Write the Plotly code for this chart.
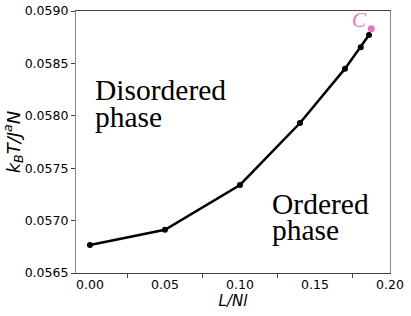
import plotly.graph_objects as go

x_vals = [0.0, 0.05, 0.10, 0.14, 0.17, 0.1805, 0.186]
y_vals = [0.056767, 0.056913, 0.057340, 0.057931, 0.058450, 0.058655, 0.058770]
c_x = [0.1875]
c_y = [0.058830]
x_ticks = [0.0, 0.05, 0.10, 0.15, 0.20]
x_tick_labels = ["0.00", "0.05", "0.10", "0.15", "0.20"]
y_ticks = [0.0565, 0.0570, 0.0575, 0.0580, 0.0585, 0.0590]
y_tick_labels = ["0.0565", "0.0570", "0.0575", "0.0580", "0.0585", "0.0590"]

fig = go.Figure()
fig.add_trace(go.Scatter(x=x_vals, y=y_vals, mode="lines+markers",
                         line=dict(color="black", width=2.5),
                         marker=dict(color="black", size=6), showlegend=False))
fig.add_trace(go.Scatter(x=c_x, y=c_y, mode="markers",
                         marker=dict(color="#e377c2", size=7), showlegend=False))

serif = "Liberation Serif, DejaVu Serif, serif"
fig.add_annotation(x=0.1865, y=0.05883, xref="x", yref="y", text="<i>C</i>",
                   showarrow=False, xanchor="right", yanchor="bottom", xshift=-1, yshift=-5,
                   font=dict(family=serif, size=21, color="#e377c2"))

def phase_text(x, y, txt, xs):
    fig.add_annotation(x=x, y=y, xref="x", yref="y", text=txt, showarrow=False,
                       xanchor="left", yanchor="middle", xshift=xs,
                       font=dict(family=serif, size=29.5, color="black"))

phase_text(0.0033, 0.058246, "Disordered", -2)
phase_text(0.0033, 0.057989, "phase", -2)
phase_text(0.1213, 0.057158, "Ordered", -2)
phase_text(0.1213, 0.056906, "phase", -2)

fig.update_layout(
    width=411, height=316, autosize=False,
    margin=dict(l=76, r=21, t=11, b=43),
    paper_bgcolor="white", plot_bgcolor="white",
    font=dict(family="DejaVu Sans", size=12.5, color="black"),
    xaxis=dict(range=[-0.0093, 0.20], tickvals=x_ticks, ticktext=x_tick_labels,
               ticks="outside", ticklen=0, showgrid=False, zeroline=False,
               showline=True, linecolor="#444", linewidth=1.2, mirror=True,
               automargin=False,
               minor=dict(tick0=0.025, dtick=0.05, ticks="outside", ticklen=4,
                          tickcolor="#444", showgrid=False),
               title=dict(text="<i>L/Nl</i>", font=dict(size=15), standoff=2)),
    yaxis=dict(range=[0.0565, 0.0590], tickvals=y_ticks, ticktext=y_tick_labels,
               ticks="outside", ticklen=4, tickcolor="#444", showgrid=False, zeroline=False,
               showline=True, linecolor="#888", linewidth=1.2, mirror=True,
               automargin=False,
               title=dict(text="<i>k<sub>B</sub>T/J<sup>a</sup>N</i>", font=dict(size=18), standoff=5)),
)

fig.write_html("out.html", config=dict(displayModeBar=False, responsive=False),
               post_script="document.body.style.margin='0';")
